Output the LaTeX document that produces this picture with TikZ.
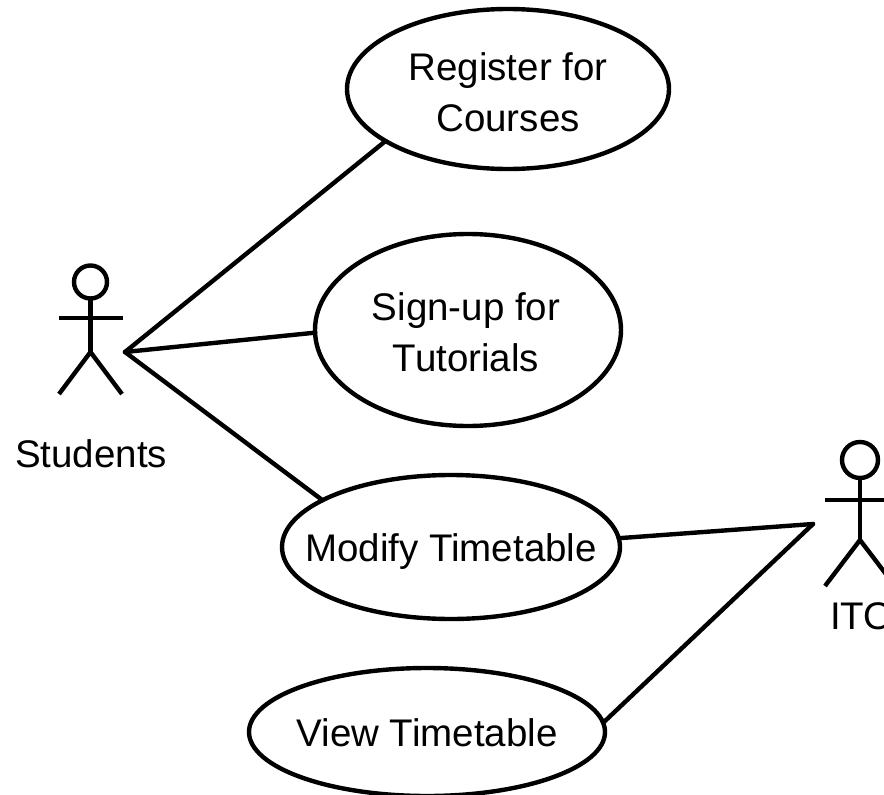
\documentclass[tikz,border=0pt]{standalone}
\usepackage{fontspec}
\setmainfont{Liberation Sans}
\usetikzlibrary{shapes.geometric}
\tikzset{
  usecase/.style={draw=black,line width=4.4pt,ellipse,inner sep=0pt,outer sep=0pt},
  conn/.style={draw=black,line width=4.4pt,line cap=round},
  limb/.style={draw=black,line width=4.4pt},
  lbl/.style={inner sep=0pt,align=center,font=\fontsize{38.5}{51}\selectfont}
}
\begin{document}
\begin{tikzpicture}[x=1pt,y=-1pt]
\path[use as bounding box] (0,0) rectangle (884,795);
\clip (0,0) rectangle (884,795);
\node[usecase,minimum width=322pt,minimum height=160pt] (reg) at (508,89) {};
\node[lbl] (regt) at (508,92) {Register for\\Courses};
\node[usecase,minimum width=306pt,minimum height=192pt] (sign) at (468,330) {};
\node[lbl] (signt) at (466,332) {Sign-up for\\Tutorials};
\node[usecase,minimum width=338pt,minimum height=144pt] (mod) at (451,547) {};
\node[lbl] (modt) at (451,552) {Modify Timetable};
\node[usecase,minimum width=356pt,minimum height=128pt] (view) at (427,732) {};
\node[lbl] (viewt) at (427,733) {View Timetable};
\node[draw=black,line width=4.4pt,circle,minimum size=33pt,inner sep=0pt,outer sep=0pt] (h1) at (90.5,282) {};
\coordinate (hip1) at (90.5,352);
\coordinate (la1) at (59,318);
\coordinate (ra1) at (123,318);
\coordinate (lf1) at (59,394);
\coordinate (rf1) at (122,394);
\draw[limb] (h1.south) -- (hip1);
\draw[limb] (la1) -- (ra1);
\draw[limb] (lf1) -- (hip1) -- (rf1);
\node[lbl] (t1) at (91,454) {Students};
\node[draw=black,line width=4.4pt,circle,minimum size=36pt,inner sep=0pt,outer sep=0pt] (h2) at (860,460) {};
\coordinate (hip2) at (860,540);
\coordinate (la2) at (825,500);
\coordinate (ra2) at (895,500);
\coordinate (lf2) at (825,586);
\coordinate (rf2) at (895,586);
\draw[limb] (h2.south) -- (hip2);
\draw[limb] (la2) -- (ra2);
\draw[limb] (lf2) -- (hip2) -- (rf2);
\node[lbl,anchor=west] (t2) at (830,616) {ITO};
\coordinate (a1) at (125,352);
\coordinate (a2) at (813,524);
\draw[conn] (a1) -- (reg.203.7);
\draw[conn] (a1) -- (sign.181);
\draw[conn] (a1) -- (mod.160.5);
\draw[conn] (a2) -- (mod.3.7);
\draw[conn] (a2) -- (view.3.5);
\end{tikzpicture}
\end{document}
